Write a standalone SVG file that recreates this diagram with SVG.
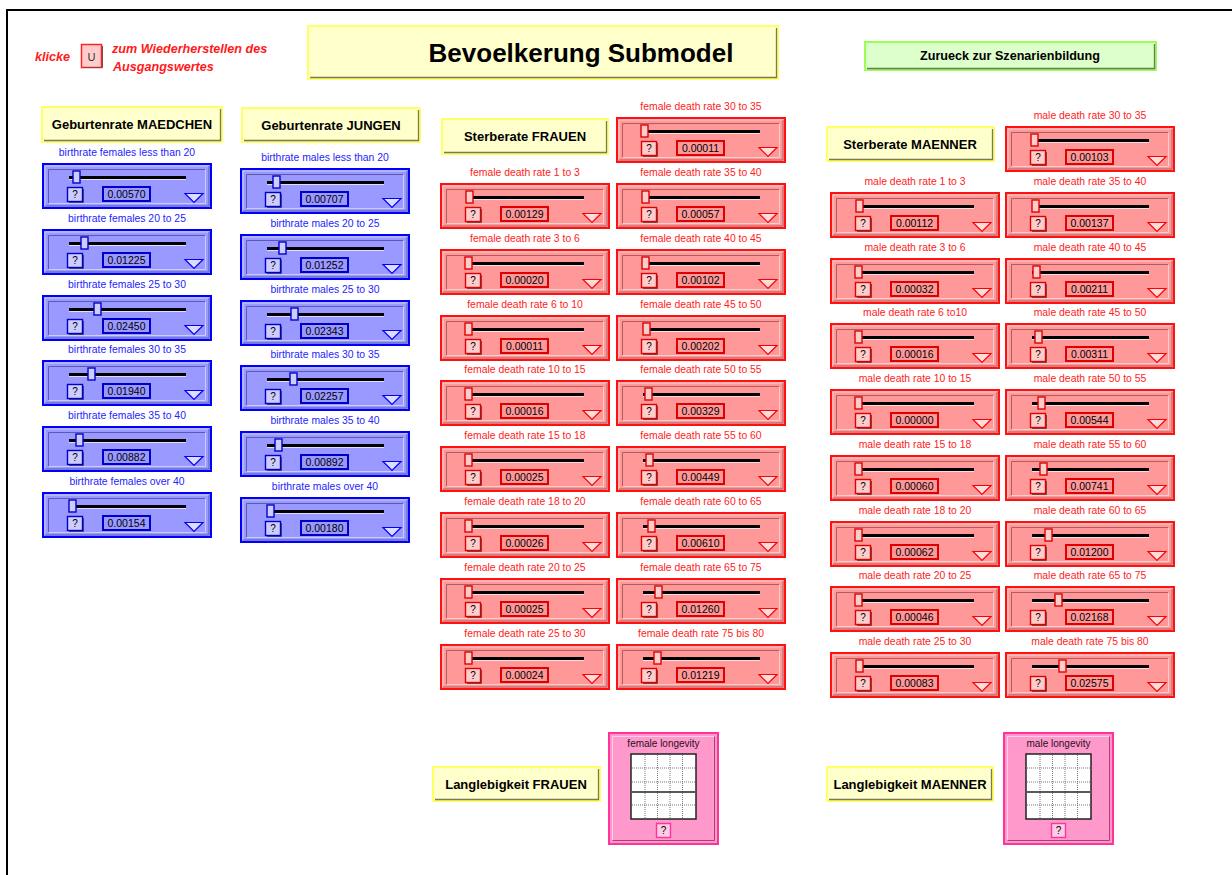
<svg xmlns="http://www.w3.org/2000/svg" xmlns:xlink="http://www.w3.org/1999/xlink" width="1232" height="875" viewBox="0 0 1232 875">
<style>
  text { font-family: "Liberation Sans", Arial, sans-serif; }
  .lb { font-size: 10.4px; text-anchor: middle; }
  .lbB { fill: #2424ff; }
  .lbR { fill: #ff1c1c; }
  .v { font-size: 10.5px; text-anchor: middle; fill: #000; }
  .q { font-size: 10px; text-anchor: middle; fill: #000; }
  .thB { fill: #ccccff; stroke: #0000cc; stroke-width: 1.4; }
  .thR { fill: #ffcccc; stroke: #e00000; stroke-width: 1.4; }
  .hdr { fill: #ffffcc; stroke: #ffff66; stroke-width: 2; }
  .shd { fill: none; stroke: #7a7a5a; stroke-width: 1.3; }
  .ht { font-size: 13px; font-weight: bold; text-anchor: middle; fill: #000; }
  .note { font-size: 12.6px; font-weight: bold; font-style: italic; fill: #ff1a1a; }
  .gl { stroke: #777; stroke-width: 1; stroke-dasharray: 1 1; }
</style>
<defs>
  <!-- blue slider body -->
  <g id="sB">
    <rect x="1" y="1" width="168" height="44" fill="#9999ff" stroke="#0000ff" stroke-width="2"/>
    <path d="M3,43 V3 H167" fill="none" stroke="#ccccff"/>
    <path d="M3,43 H167 V3" fill="none" stroke="#5a5ab4"/>
    <path d="M6.5,40.5 V6.5 H163.5" fill="none" stroke="#5a5ab4"/>
    <path d="M6.5,40.5 H163.5 V6.5" fill="none" stroke="#ccccff"/>
    <line x1="27" y1="14.5" x2="144" y2="14.5" stroke="#000" stroke-width="3"/>
    <line x1="27" y1="16.5" x2="144" y2="16.5" stroke="#ddddff" stroke-width="1"/>
    <rect x="25.5" y="24.5" width="15" height="14" fill="#ccccff" stroke="#0000cc" stroke-width="1.4"/>
    <path d="M27,39.5 H41.5 V26" fill="none" stroke="#3a3a8a"/>
    <text class="q" x="33" y="35">?</text>
    <rect x="61" y="24" width="47" height="14" fill="#9999ff" stroke="#0000cc" stroke-width="2"/>
    <path d="M143,30.5 H161 L152,39.5 Z" fill="#dcdcff" stroke="#0000ff" stroke-width="1.2"/>
  </g>
  <!-- red slider body -->
  <g id="sR">
    <rect x="1" y="1" width="168" height="44" fill="#ff9999" stroke="#ff1111" stroke-width="2"/>
    <path d="M3,43 V3 H167" fill="none" stroke="#ffcccc"/>
    <path d="M3,43 H167 V3" fill="none" stroke="#b45a5a"/>
    <path d="M6.5,40.5 V6.5 H163.5" fill="none" stroke="#b45a5a"/>
    <path d="M6.5,40.5 H163.5 V6.5" fill="none" stroke="#ffcccc"/>
    <line x1="27" y1="14.5" x2="144" y2="14.5" stroke="#000" stroke-width="3"/>
    <line x1="27" y1="16.5" x2="144" y2="16.5" stroke="#ffdddd" stroke-width="1"/>
    <rect x="25.5" y="24.5" width="15" height="14" fill="#ffcccc" stroke="#e00000" stroke-width="1.4"/>
    <path d="M27,39.5 H41.5 V26" fill="none" stroke="#8a3a3a"/>
    <text class="q" x="33" y="35">?</text>
    <rect x="61" y="24" width="47" height="14" fill="#ff9999" stroke="#e00000" stroke-width="2"/>
    <path d="M143,30.5 H161 L152,39.5 Z" fill="#ffdcdc" stroke="#ff0000" stroke-width="1.2"/>
  </g>
</defs>

<rect width="1232" height="875" fill="#fff"/>
<!-- page frame -->
<path d="M7,875 V10 H1232" fill="none" stroke="#000" stroke-width="2"/>

<!-- reset hint -->
<g id="reset">
  <text class="note" x="35" y="61">klicke</text>
  <rect x="81.5" y="44.5" width="20" height="23" fill="#ffcccc" stroke="#ff2222" stroke-width="1.5"/>
  <path d="M83,67.5 H102.5 V46" fill="none" stroke="#884444"/>
  <text x="91.5" y="61" font-size="11" text-anchor="middle" fill="#333">U</text>
  <text class="note" x="112" y="53">zum Wiederherstellen des</text>
  <text class="note" x="113" y="71">Ausgangswertes</text>
</g>

<!-- title -->
<g id="title">
  <rect class="hdr" x="308" y="26" width="470" height="53"/>
  <path class="shd" d="M310,77.5 H776.5 V28"/>
  <text x="581" y="62" font-size="26" font-weight="bold" text-anchor="middle" fill="#000">Bevoelkerung Submodel</text>
</g>

<!-- navigation button -->
<g id="back">
  <rect x="865" y="42" width="291" height="28" fill="#ddffcc" stroke="#99ff55" stroke-width="2"/>
  <path d="M867,68.5 H1154.5 V44" fill="none" stroke="#6a7a5a" stroke-width="1.3"/>
  <text x="1010" y="60" font-size="12.6" font-weight="bold" text-anchor="middle" fill="#000">Zurueck zur Szenarienbildung</text>
</g>

<!-- section headers -->
<g id="h-maedchen"><rect class="hdr" x="42" y="107" width="180" height="35"/><path class="shd" d="M44,140.5 H220.5 V109"/><text class="ht" x="132" y="129">Geburtenrate MAEDCHEN</text></g>
<g id="h-jungen"><rect class="hdr" x="242" y="108" width="178" height="34"/><path class="shd" d="M244,140.5 H418.5 V110"/><text class="ht" x="331" y="130">Geburtenrate JUNGEN</text></g>
<g id="h-frauen"><rect class="hdr" x="442" y="119" width="166" height="35"/><path class="shd" d="M444,152.5 H606.5 V121"/><text class="ht" x="525" y="141">Sterberate FRAUEN</text></g>
<g id="h-maenner"><rect class="hdr" x="827" y="127" width="167" height="34"/><path class="shd" d="M829,159.5 H992.5 V129"/><text class="ht" x="910" y="149">Sterberate MAENNER</text></g>
<g id="h-lang-f"><rect class="hdr" x="433" y="767" width="167" height="34"/><path class="shd" d="M435,799.5 H598.5 V769"/><text class="ht" x="516" y="789">Langlebigkeit FRAUEN</text></g>
<g id="h-lang-m"><rect class="hdr" x="827" y="767" width="166" height="34"/><path class="shd" d="M829,799.5 H991.5 V769"/><text class="ht" x="910" y="789">Langlebigkeit MAENNER</text></g>

<!-- birth rate sliders, females -->
<g id="bf1" transform="translate(42,163)"><text class="lb lbB" x="85" y="-7">birthrate females less than 20</text><use xlink:href="#sB"/><rect class="thB" x="31" y="8" width="7" height="12"/><text class="v" x="84.5" y="35">0.00570</text></g>
<g id="bf2" transform="translate(42,229)"><text class="lb lbB" x="85" y="-7">birthrate females 20 to 25</text><use xlink:href="#sB"/><rect class="thB" x="39" y="8" width="7" height="12"/><text class="v" x="84.5" y="35">0.01225</text></g>
<g id="bf3" transform="translate(42,295)"><text class="lb lbB" x="85" y="-7">birthrate females 25 to 30</text><use xlink:href="#sB"/><rect class="thB" x="52" y="8" width="7" height="12"/><text class="v" x="84.5" y="35">0.02450</text></g>
<g id="bf4" transform="translate(42,360)"><text class="lb lbB" x="85" y="-7">birthrate females 30 to 35</text><use xlink:href="#sB"/><rect class="thB" x="46" y="8" width="7" height="12"/><text class="v" x="84.5" y="35">0.01940</text></g>
<g id="bf5" transform="translate(42,426)"><text class="lb lbB" x="85" y="-7">birthrate females 35 to 40</text><use xlink:href="#sB"/><rect class="thB" x="34" y="8" width="7" height="12"/><text class="v" x="84.5" y="35">0.00882</text></g>
<g id="bf6" transform="translate(42,492)"><text class="lb lbB" x="85" y="-7">birthrate females over 40</text><use xlink:href="#sB"/><rect class="thB" x="27" y="8" width="7" height="12"/><text class="v" x="84.5" y="35">0.00154</text></g>

<!-- birth rate sliders, males -->
<g id="bm1" transform="translate(240,168)"><text class="lb lbB" x="85" y="-7">birthrate males less than 20</text><use xlink:href="#sB"/><rect class="thB" x="33" y="8" width="7" height="12"/><text class="v" x="84.5" y="35">0.00707</text></g>
<g id="bm2" transform="translate(240,234)"><text class="lb lbB" x="85" y="-7">birthrate males 20 to 25</text><use xlink:href="#sB"/><rect class="thB" x="39" y="8" width="7" height="12"/><text class="v" x="84.5" y="35">0.01252</text></g>
<g id="bm3" transform="translate(240,300)"><text class="lb lbB" x="85" y="-7">birthrate males 25 to 30</text><use xlink:href="#sB"/><rect class="thB" x="51" y="8" width="7" height="12"/><text class="v" x="84.5" y="35">0.02343</text></g>
<g id="bm4" transform="translate(240,365)"><text class="lb lbB" x="85" y="-7">birthrate males 30 to 35</text><use xlink:href="#sB"/><rect class="thB" x="50" y="8" width="7" height="12"/><text class="v" x="84.5" y="35">0.02257</text></g>
<g id="bm5" transform="translate(240,431)"><text class="lb lbB" x="85" y="-7">birthrate males 35 to 40</text><use xlink:href="#sB"/><rect class="thB" x="35" y="8" width="7" height="12"/><text class="v" x="84.5" y="35">0.00892</text></g>
<g id="bm6" transform="translate(240,497)"><text class="lb lbB" x="85" y="-7">birthrate males over 40</text><use xlink:href="#sB"/><rect class="thB" x="27" y="8" width="7" height="12"/><text class="v" x="84.5" y="35">0.00180</text></g>

<!-- female death rate sliders -->
<g id="fd1" transform="translate(440,183)"><text class="lb lbR" x="85" y="-7">female death rate 1 to 3</text><use xlink:href="#sR"/><rect class="thR" x="26" y="8" width="7" height="12"/><text class="v" x="84.5" y="35">0.00129</text></g>
<g id="fd2" transform="translate(440,249)"><text class="lb lbR" x="85" y="-7">female death rate 3 to 6</text><use xlink:href="#sR"/><rect class="thR" x="25" y="8" width="7" height="12"/><text class="v" x="84.5" y="35">0.00020</text></g>
<g id="fd3" transform="translate(440,315)"><text class="lb lbR" x="85" y="-7">female death rate 6 to 10</text><use xlink:href="#sR"/><rect class="thR" x="25" y="8" width="7" height="12"/><text class="v" x="84.5" y="35">0.00011</text></g>
<g id="fd4" transform="translate(440,380)"><text class="lb lbR" x="85" y="-7">female death rate 10 to 15</text><use xlink:href="#sR"/><rect class="thR" x="25" y="8" width="7" height="12"/><text class="v" x="84.5" y="35">0.00016</text></g>
<g id="fd5" transform="translate(440,446)"><text class="lb lbR" x="85" y="-7">female death rate 15 to 18</text><use xlink:href="#sR"/><rect class="thR" x="25" y="8" width="7" height="12"/><text class="v" x="84.5" y="35">0.00025</text></g>
<g id="fd6" transform="translate(440,512)"><text class="lb lbR" x="85" y="-7">female death rate 18 to 20</text><use xlink:href="#sR"/><rect class="thR" x="25" y="8" width="7" height="12"/><text class="v" x="84.5" y="35">0.00026</text></g>
<g id="fd7" transform="translate(440,578)"><text class="lb lbR" x="85" y="-7">female death rate 20 to 25</text><use xlink:href="#sR"/><rect class="thR" x="25" y="8" width="7" height="12"/><text class="v" x="84.5" y="35">0.00025</text></g>
<g id="fd8" transform="translate(440,644)"><text class="lb lbR" x="85" y="-7">female death rate 25 to 30</text><use xlink:href="#sR"/><rect class="thR" x="25" y="8" width="7" height="12"/><text class="v" x="84.5" y="35">0.00024</text></g>

<g id="fd9" transform="translate(616,117)"><text class="lb lbR" x="85" y="-7">female death rate 30 to 35</text><use xlink:href="#sR"/><rect class="thR" x="25" y="8" width="7" height="12"/><text class="v" x="84.5" y="35">0.00011</text></g>
<g id="fd10" transform="translate(616,183)"><text class="lb lbR" x="85" y="-7">female death rate 35 to 40</text><use xlink:href="#sR"/><rect class="thR" x="26" y="8" width="7" height="12"/><text class="v" x="84.5" y="35">0.00057</text></g>
<g id="fd11" transform="translate(616,249)"><text class="lb lbR" x="85" y="-7">female death rate 40 to 45</text><use xlink:href="#sR"/><rect class="thR" x="26" y="8" width="7" height="12"/><text class="v" x="84.5" y="35">0.00102</text></g>
<g id="fd12" transform="translate(616,315)"><text class="lb lbR" x="85" y="-7">female death rate 45 to 50</text><use xlink:href="#sR"/><rect class="thR" x="27" y="8" width="7" height="12"/><text class="v" x="84.5" y="35">0.00202</text></g>
<g id="fd13" transform="translate(616,380)"><text class="lb lbR" x="85" y="-7">female death rate 50 to 55</text><use xlink:href="#sR"/><rect class="thR" x="29" y="8" width="7" height="12"/><text class="v" x="84.5" y="35">0.00329</text></g>
<g id="fd14" transform="translate(616,446)"><text class="lb lbR" x="85" y="-7">female death rate 55 to 60</text><use xlink:href="#sR"/><rect class="thR" x="30" y="8" width="7" height="12"/><text class="v" x="84.5" y="35">0.00449</text></g>
<g id="fd15" transform="translate(616,512)"><text class="lb lbR" x="85" y="-7">female death rate 60 to 65</text><use xlink:href="#sR"/><rect class="thR" x="32" y="8" width="7" height="12"/><text class="v" x="84.5" y="35">0.00610</text></g>
<g id="fd16" transform="translate(616,578)"><text class="lb lbR" x="85" y="-7">female death rate 65 to 75</text><use xlink:href="#sR"/><rect class="thR" x="39" y="8" width="7" height="12"/><text class="v" x="84.5" y="35">0.01260</text></g>
<g id="fd17" transform="translate(616,644)"><text class="lb lbR" x="85" y="-7">female death rate 75 bis 80</text><use xlink:href="#sR"/><rect class="thR" x="38" y="8" width="7" height="12"/><text class="v" x="84.5" y="35">0.01219</text></g>

<!-- male death rate sliders -->
<g id="md1" transform="translate(830,192)"><text class="lb lbR" x="85" y="-7">male death rate 1 to 3</text><use xlink:href="#sR"/><rect class="thR" x="26" y="8" width="7" height="12"/><text class="v" x="84.5" y="35">0.00112</text></g>
<g id="md2" transform="translate(830,258)"><text class="lb lbR" x="85" y="-7">male death rate 3 to 6</text><use xlink:href="#sR"/><rect class="thR" x="25" y="8" width="7" height="12"/><text class="v" x="84.5" y="35">0.00032</text></g>
<g id="md3" transform="translate(830,323)"><text class="lb lbR" x="85" y="-7">male death rate 6 to10</text><use xlink:href="#sR"/><rect class="thR" x="25" y="8" width="7" height="12"/><text class="v" x="84.5" y="35">0.00016</text></g>
<g id="md4" transform="translate(830,389)"><text class="lb lbR" x="85" y="-7">male death rate 10 to 15</text><use xlink:href="#sR"/><rect class="thR" x="25" y="8" width="7" height="12"/><text class="v" x="84.5" y="35">0.00000</text></g>
<g id="md5" transform="translate(830,455)"><text class="lb lbR" x="85" y="-7">male death rate 15 to 18</text><use xlink:href="#sR"/><rect class="thR" x="25" y="8" width="7" height="12"/><text class="v" x="84.5" y="35">0.00060</text></g>
<g id="md6" transform="translate(830,521)"><text class="lb lbR" x="85" y="-7">male death rate 18 to 20</text><use xlink:href="#sR"/><rect class="thR" x="25" y="8" width="7" height="12"/><text class="v" x="84.5" y="35">0.00062</text></g>
<g id="md7" transform="translate(830,586)"><text class="lb lbR" x="85" y="-7">male death rate 20 to 25</text><use xlink:href="#sR"/><rect class="thR" x="25" y="8" width="7" height="12"/><text class="v" x="84.5" y="35">0.00046</text></g>
<g id="md8" transform="translate(830,652)"><text class="lb lbR" x="85" y="-7">male death rate 25 to 30</text><use xlink:href="#sR"/><rect class="thR" x="26" y="8" width="7" height="12"/><text class="v" x="84.5" y="35">0.00083</text></g>

<g id="md9" transform="translate(1005,126)"><text class="lb lbR" x="85" y="-7">male death rate 30 to 35</text><use xlink:href="#sR"/><rect class="thR" x="26" y="8" width="7" height="12"/><text class="v" x="84.5" y="35">0.00103</text></g>
<g id="md10" transform="translate(1005,192)"><text class="lb lbR" x="85" y="-7">male death rate 35 to 40</text><use xlink:href="#sR"/><rect class="thR" x="27" y="8" width="7" height="12"/><text class="v" x="84.5" y="35">0.00137</text></g>
<g id="md11" transform="translate(1005,258)"><text class="lb lbR" x="85" y="-7">male death rate 40 to 45</text><use xlink:href="#sR"/><rect class="thR" x="28" y="8" width="7" height="12"/><text class="v" x="84.5" y="35">0.00211</text></g>
<g id="md12" transform="translate(1005,323)"><text class="lb lbR" x="85" y="-7">male death rate 45 to 50</text><use xlink:href="#sR"/><rect class="thR" x="30" y="8" width="7" height="12"/><text class="v" x="84.5" y="35">0.00311</text></g>
<g id="md13" transform="translate(1005,389)"><text class="lb lbR" x="85" y="-7">male death rate 50 to 55</text><use xlink:href="#sR"/><rect class="thR" x="33" y="8" width="7" height="12"/><text class="v" x="84.5" y="35">0.00544</text></g>
<g id="md14" transform="translate(1005,455)"><text class="lb lbR" x="85" y="-7">male death rate 55 to 60</text><use xlink:href="#sR"/><rect class="thR" x="35" y="8" width="7" height="12"/><text class="v" x="84.5" y="35">0.00741</text></g>
<g id="md15" transform="translate(1005,521)"><text class="lb lbR" x="85" y="-7">male death rate 60 to 65</text><use xlink:href="#sR"/><rect class="thR" x="40" y="8" width="7" height="12"/><text class="v" x="84.5" y="35">0.01200</text></g>
<g id="md16" transform="translate(1005,586)"><text class="lb lbR" x="85" y="-7">male death rate 65 to 75</text><use xlink:href="#sR"/><rect class="thR" x="50" y="8" width="7" height="12"/><text class="v" x="84.5" y="35">0.02168</text></g>
<g id="md17" transform="translate(1005,652)"><text class="lb lbR" x="85" y="-7">male death rate 75 bis 80</text><use xlink:href="#sR"/><rect class="thR" x="54" y="8" width="7" height="12"/><text class="v" x="84.5" y="35">0.02575</text></g>

<!-- longevity graph pads -->
<g id="g-female" transform="translate(608,732)">
  <rect x="1" y="1" width="109" height="111" fill="#ff99cc" stroke="#ff3399" stroke-width="2"/>
  <path d="M4.5,108.5 V4.5 H106.5" fill="none" stroke="#ffd0e8"/>
  <path d="M4.5,108.5 H106.5 V4.5" fill="none" stroke="#b0406e"/>
  <text x="55.5" y="15" font-size="10" text-anchor="middle" fill="#2a1020">female longevity</text>
  <rect x="23" y="22" width="65" height="65" fill="#fff" stroke="#222" stroke-width="1.5"/>
  <path class="gl" d="M37,23 V86 M49.5,23 V86 M62,23 V86 M74.5,23 V86 M24,36 H87 M24,50 H87 M24,73 H87"/>
  <line x1="24" y1="60" x2="87" y2="60" stroke="#222" stroke-width="1.5"/>
  <rect x="48.5" y="91.5" width="14" height="14" fill="#ffcce6" stroke="#ff3399" stroke-width="1.4"/>
  <text class="q" x="55.5" y="102">?</text>
</g>
<g id="g-male" transform="translate(1003,732)">
  <rect x="1" y="1" width="109" height="111" fill="#ff99cc" stroke="#ff3399" stroke-width="2"/>
  <path d="M4.5,108.5 V4.5 H106.5" fill="none" stroke="#ffd0e8"/>
  <path d="M4.5,108.5 H106.5 V4.5" fill="none" stroke="#b0406e"/>
  <text x="55.5" y="15" font-size="10" text-anchor="middle" fill="#2a1020">male longevity</text>
  <rect x="23" y="22" width="65" height="65" fill="#fff" stroke="#222" stroke-width="1.5"/>
  <path class="gl" d="M37,23 V86 M49.5,23 V86 M62,23 V86 M74.5,23 V86 M24,36 H87 M24,50 H87 M24,73 H87"/>
  <line x1="24" y1="60" x2="87" y2="60" stroke="#222" stroke-width="1.5"/>
  <rect x="48.5" y="91.5" width="14" height="14" fill="#ffcce6" stroke="#ff3399" stroke-width="1.4"/>
  <text class="q" x="55.5" y="102">?</text>
</g>

<!-- no connectors in this panel -->
<g id="connectors"/>
</svg>
